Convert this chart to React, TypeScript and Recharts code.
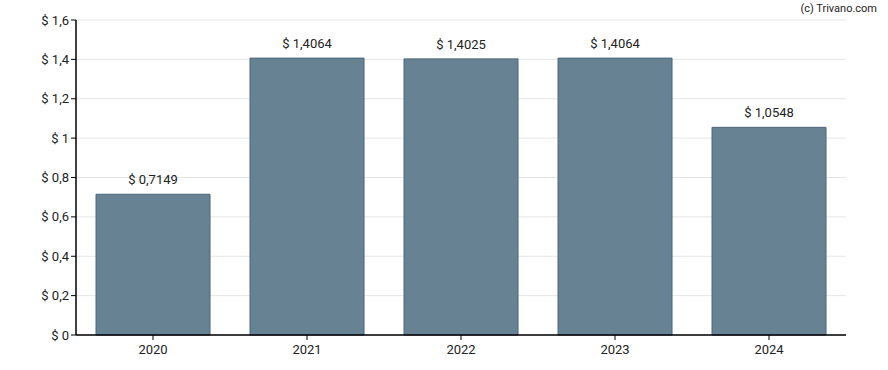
import React from 'react';
import { BarChart, Bar, XAxis, YAxis, CartesianGrid, LabelList } from 'recharts';

const years = ['2020', '2021', '2022', '2023', '2024'];
const dividends = [0.7149, 1.4064, 1.4025, 1.4064, 1.0548];
const yTicks = [0, 0.2, 0.4, 0.6, 0.8, 1, 1.2, 1.4, 1.6];

const data = years.map((y, i) => ({ year: y, value: dividends[i] }));

const fmtTick = (v: number) => '$ ' + String(v).replace('.', ',');
const fmtLabel = (v: any) => '$ ' + Number(v).toFixed(4).replace('.', ',');

export default function App() {
  return (
    <div style={{ position: 'absolute', left: 0, top: 0, width: 888, height: 370, fontFamily: 'Roboto, sans-serif' }}>
      <BarChart width={888} height={370} data={data} margin={{ top: 20, right: 42, bottom: 0, left: 0 }} barCategoryGap="13%">
        <CartesianGrid vertical={false} stroke="#e6e6e6" />
        <XAxis dataKey="year" height={35} tick={{ fontSize: 13, fill: '#222', dy: 3 }} tickLine={{ stroke: '#000' }} axisLine={{ stroke: '#000', strokeWidth: 1.5 }} tickSize={5} />
        <YAxis width={76} domain={[0, 1.6]} ticks={yTicks} tickFormatter={fmtTick} tick={{ fontSize: 13, fill: '#222' }} tickLine={{ stroke: '#000' }} axisLine={{ stroke: '#000', strokeWidth: 1.5 }} tickSize={5} interval={0} />
        <Bar dataKey="value" fill="#678293" stroke="#4c6679" strokeWidth={1} isAnimationActive={false}>
          <LabelList dataKey="value" position="top" offset={10} formatter={fmtLabel} style={{ fontSize: 13, fill: '#222' }} />
        </Bar>
      </BarChart>
      <div style={{ position: 'absolute', right: 11, top: 2, fontSize: 11, color: '#222' }}>(c) Trivano.com</div>
    </div>
  );
}
